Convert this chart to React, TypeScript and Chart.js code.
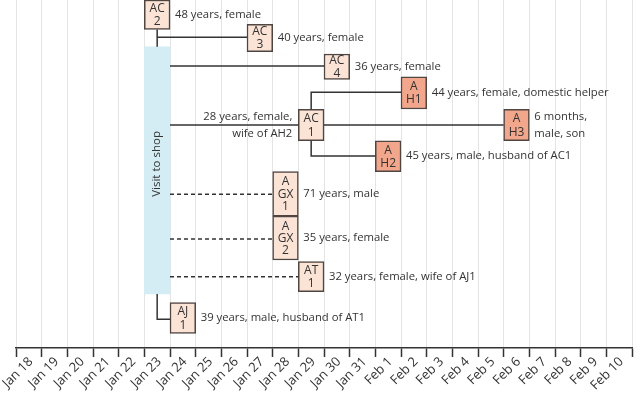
import { useEffect, useRef } from 'react';
import { Chart, registerables } from 'chart.js';

Chart.register(...registerables);

// ---- Data ----
const dayLabels = [
  'Jan 18', 'Jan 19', 'Jan 20', 'Jan 21', 'Jan 22', 'Jan 23', 'Jan 24', 'Jan 25',
  'Jan 26', 'Jan 27', 'Jan 28', 'Jan 29', 'Jan 30', 'Jan 31', 'Feb 1', 'Feb 2',
  'Feb 3', 'Feb 4', 'Feb 5', 'Feb 6', 'Feb 7', 'Feb 8', 'Feb 9', 'Feb 10',
];

const caseIds = ['AC2', 'AC3', 'AC4', 'AH1', 'AC1', 'AH3', 'AH2', 'AGX1', 'AGX2', 'AT1', 'AJ1'];
const caseBoxText = ['AC\n2', 'AC\n3', 'AC\n4', 'A\nH1', 'AC\n1', 'A\nH3', 'A\nH2', 'A\nGX\n1', 'A\nGX\n2', 'AT\n1', 'AJ\n1'];
const caseOnset = ['Jan 23', 'Jan 27', 'Jan 30', 'Feb 2', 'Jan 29', 'Feb 6', 'Feb 1', 'Jan 28', 'Jan 28', 'Jan 29', 'Jan 24'];
const caseGroup = ['C', 'C', 'C', 'H', 'C', 'H', 'H', 'C', 'C', 'C', 'C'];
const caseRowTop = [0, 1.57, 3.49, 4.96, 7.07, 7.07, 9.1, 11.1, 13.97, 16.92, 19.57];
const caseRowBottom = [1.9, 3.34, 5.13, 7.05, 9.1, 9.1, 11.1, 13.97, 16.81, 18.86, 21.55];
const caseNotes = [
  '48 years, female',
  '40 years, female',
  '36 years, female',
  '44 years, female, domestic helper',
  '28 years, female,\nwife of AH2',
  '6 months,\nmale, son',
  '45 years, male, husband of AC1',
  '71 years, male',
  '35 years, female',
  '32 years, female, wife of AJ1',
  '39 years, male, husband of AT1',
];
const caseNoteSide = ['right', 'right', 'right', 'right', 'left', 'right', 'right', 'right', 'right', 'right', 'right'];

const visitDay = 'Jan 23';
const visitRows = [3.02, 19.01];
const visitLabel = 'Visit to shop';
const visitLabelRow = 10.6;

// links: [day, fraction of day, row]
const solidLinks = [
  [['Jan 23', 0.5, 1.9], ['Jan 23', 0.5, 3.02]],
  [['Jan 23', 0.5, 2.41], ['Jan 27', 0, 2.41]],
  [['Jan 23', 1, 4.27], ['Jan 30', 0, 4.27]],
  [['Jan 23', 1, 8.08], ['Jan 29', 0, 8.08]],
  [['Jan 29', 1, 8.08], ['Feb 6', 0, 8.08]],
  [['Jan 29', 0.5, 7.07], ['Jan 29', 0.5, 5.97], ['Feb 2', 0, 5.97]],
  [['Jan 29', 0.5, 9.1], ['Jan 29', 0.5, 10.09], ['Feb 1', 0, 10.09]],
  [['Jan 23', 0.5, 19.01], ['Jan 23', 0.5, 20.64], ['Jan 24', 0, 20.64]],
];
const dashedLinks = [
  [['Jan 23', 1, 12.56], ['Jan 28', 0, 12.56]],
  [['Jan 23', 1, 15.45], ['Jan 28', 0, 15.45]],
  [['Jan 23', 1, 17.89], ['Jan 29', 0, 17.89]],
];

// ---- Styles ----
const LIGHT_FILL = '#fbe3d6';
const DARK_FILL = '#f2a68b';
const BOX_BORDER = '#4f4541';
const VISIT_FILL = '#d4edf4';
const INK = '#333333';
const FONT = '"Open Sans", "DejaVu Sans", sans-serif';

const dayIndex = (d: string) => dayLabels.indexOf(d);

function boxData(group: string) {
  return caseIds
    .map((_, i) => i)
    .filter((i) => caseGroup[i] === group)
    .map((i) => ({ x: dayIndex(caseOnset[i]) + 0.5, y: [caseRowTop[i], caseRowBottom[i]] }));
}

function linkDataset(link: any[], dashed: boolean) {
  return {
    type: 'line' as const,
    data: link.map((p: any) => ({ x: dayIndex(p[0]) + p[1], y: p[2] })),
    borderColor: INK,
    borderWidth: 1.5,
    borderDash: dashed ? [4, 3] : [],
    pointRadius: 0,
    fill: false,
    tension: 0,
    clip: false as const,
    order: 0,
  };
}

const textPlugin = {
  id: 'caseText',
  afterDatasetsDraw(chart: any) {
    const { ctx } = chart;
    const x = chart.scales.x;
    const y = chart.scales.y;
    ctx.save();
    ctx.fillStyle = INK;
    ctx.textBaseline = 'middle';
    caseIds.forEach((_, i) => {
      const d = dayIndex(caseOnset[i]);
      const cx = x.getPixelForValue(d + 0.5);
      const cy = (y.getPixelForValue(caseRowTop[i]) + y.getPixelForValue(caseRowBottom[i])) / 2;
      const lines = caseBoxText[i].split('\n');
      const lh = lines.length > 2 ? 12.4 : 13.2;
      ctx.font = `12px ${FONT}`;
      ctx.textAlign = 'center';
      lines.forEach((t, k) => {
        ctx.fillText(t, cx, cy + (k - (lines.length - 1) / 2) * lh + 0.5);
      });
      const notes = caseNotes[i].split('\n');
      const right = caseNoteSide[i] === 'right';
      const nx = right ? x.getPixelForValue(d + 1) + 5 : x.getPixelForValue(d) - 6;
      ctx.font = `11.3px ${FONT}`;
      ctx.textAlign = right ? 'left' : 'right';
      notes.forEach((t, k) => {
        ctx.fillText(t, nx, cy + (k - (notes.length - 1) / 2) * 16.6);
      });
    });
    const vx = x.getPixelForValue(dayIndex(visitDay) + 0.5);
    const vy = y.getPixelForValue(visitLabelRow);
    ctx.translate(vx, vy);
    ctx.rotate(-Math.PI / 2);
    ctx.textAlign = 'center';
    ctx.font = `11.5px ${FONT}`;
    ctx.fillText(visitLabel, 0, 0);
    ctx.restore();
  },
};

export default function App() {
  const canvasRef = useRef<HTMLCanvasElement | null>(null);

  useEffect(() => {
    if (!canvasRef.current) return;
    const barCommon = {
      type: 'bar' as const,
      grouped: false,
      barPercentage: 1,
      categoryPercentage: 1,
      borderSkipped: false as const,
      order: 1,
    };
    const chart = new Chart(canvasRef.current, {
      type: 'bar',
      data: {
        datasets: [
          {
            ...barCommon,
            data: [{ x: dayIndex(visitDay) + 0.5, y: visitRows }],
            backgroundColor: VISIT_FILL,
            borderWidth: 0,
            order: 2,
          },
          ...solidLinks.map((l) => linkDataset(l, false)),
          ...dashedLinks.map((l) => linkDataset(l, true)),
          {
            ...barCommon,
            data: boxData('C'),
            backgroundColor: LIGHT_FILL,
            borderColor: BOX_BORDER,
            borderWidth: 1.5,
          },
          {
            ...barCommon,
            data: boxData('H'),
            backgroundColor: DARK_FILL,
            borderColor: BOX_BORDER,
            borderWidth: 1.5,
          },
        ] as any,
      },
      options: {
        responsive: false,
        animation: false,
        events: [],
        layout: { padding: { left: 16, right: 8, top: 0, bottom: 0 } },
        plugins: { legend: { display: false }, tooltip: { enabled: false } },
        scales: {
          x: {
            type: 'linear',
            offset: false,
            min: 0,
            max: 24,
            afterFit: (s: any) => {
              s.paddingLeft = 0;
              s.paddingRight = 0;
              s.height = 58;
            },
            ticks: {
              stepSize: 1,
              autoSkip: false,
              minRotation: 45,
              maxRotation: 45,
              labelOffset: 15,
              padding: -3,
              color: INK,
              font: { family: FONT, size: 13 },
              callback: (v: any) => dayLabels[v] ?? '',
            },
            grid: {
              offset: false,
              color: '#e4e4e4',
              lineWidth: 1,
              tickColor: INK,
              tickWidth: 1.5,
              tickLength: 9,
            },
            border: { color: INK, width: 1.5 },
          },
          y: {
            type: 'linear',
            display: false,
            reverse: true,
            min: 0,
            max: 22.5,
          },
        },
      },
      plugins: [textPlugin],
    } as any);
    return () => chart.destroy();
  }, []);

  return (
    <div style={{ position: 'absolute', left: 0, top: 0, width: 640, height: 406, background: '#fff' }}>
      <canvas ref={canvasRef} width={640} height={406} style={{ display: 'block', width: 640, height: 406 }} />
    </div>
  );
}
